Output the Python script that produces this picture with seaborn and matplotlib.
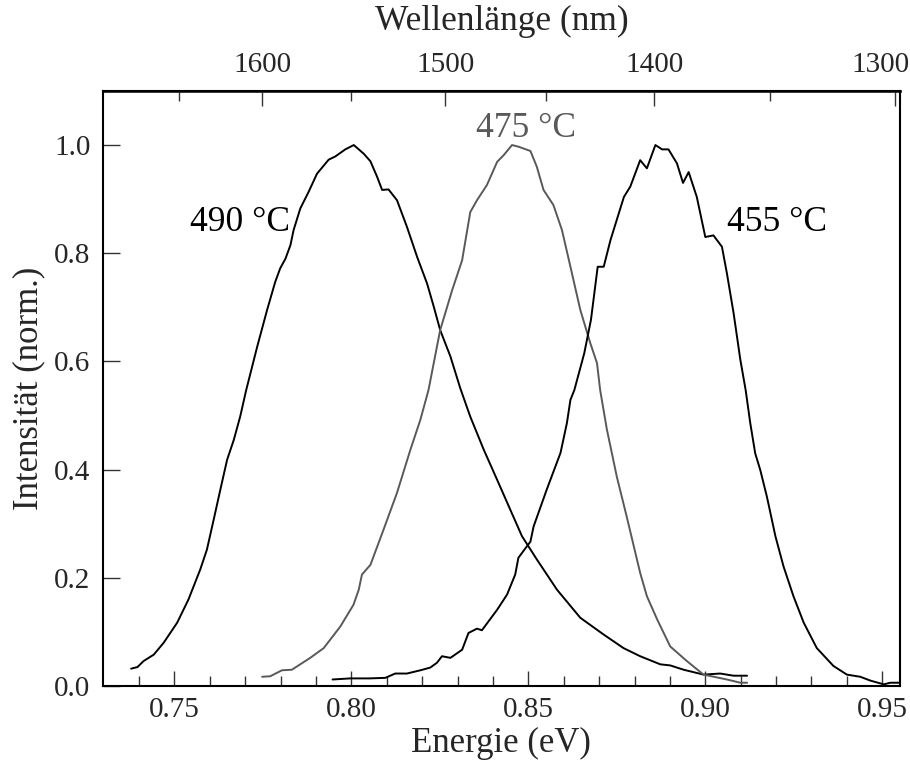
import numpy as np
import pandas as pd
import matplotlib
matplotlib.use("Agg")
import matplotlib.pyplot as plt
import matplotlib.transforms as mtransforms
import seaborn as sns

# Photolumineszenz-Spektren
energy_490 = [0.7378, 0.7396, 0.7413, 0.7442, 0.7470, 0.7508, 0.7540, 0.7573, 0.7592, 0.7611,
              0.7630, 0.7649, 0.7668, 0.7686, 0.7703, 0.7734, 0.7762, 0.7785, 0.7799, 0.7814,
              0.7828, 0.7837, 0.7856, 0.7879, 0.7903, 0.7936, 0.7955, 0.7983, 0.8007, 0.8035,
              0.8054, 0.8073, 0.8087, 0.8105, 0.8129, 0.8157, 0.8186, 0.8214, 0.8233, 0.8251,
              0.8280, 0.8308, 0.8336, 0.8374, 0.8412, 0.8449, 0.8482, 0.8524, 0.8581, 0.8647,
              0.8713, 0.8769, 0.8816, 0.8873, 0.8901, 0.8939, 0.8995, 0.9042, 0.9080, 0.9118]
intens_490 = [0.032, 0.035, 0.046, 0.058, 0.080, 0.117, 0.160, 0.215, 0.252, 0.307,
              0.363, 0.418, 0.455, 0.498, 0.547, 0.627, 0.695, 0.747, 0.772, 0.790,
              0.815, 0.843, 0.883, 0.913, 0.947, 0.973, 0.979, 0.992, 1.000, 0.984,
              0.970, 0.941, 0.917, 0.918, 0.898, 0.849, 0.793, 0.744, 0.701, 0.658,
              0.609, 0.550, 0.498, 0.437, 0.381, 0.326, 0.277, 0.234, 0.178, 0.126,
              0.095, 0.070, 0.055, 0.040, 0.038, 0.030, 0.021, 0.023, 0.019, 0.019]

energy_475 = [0.7748, 0.7771, 0.7804, 0.7832, 0.7884, 0.7922, 0.7969, 0.8006, 0.8021, 0.8030,
              0.8054, 0.8091, 0.8129, 0.8167, 0.8195, 0.8218, 0.8251, 0.8285, 0.8313, 0.8336,
              0.8355, 0.8383, 0.8412, 0.8430, 0.8454, 0.8472, 0.8506, 0.8524, 0.8543, 0.8571,
              0.8595, 0.8619, 0.8647, 0.8675, 0.8694, 0.8703, 0.8722, 0.8750, 0.8778, 0.8816,
              0.8835, 0.8864, 0.8901, 0.8948, 0.8995, 0.9061, 0.9099, 0.9118]
intens_475 = [0.017, 0.018, 0.029, 0.030, 0.052, 0.070, 0.110, 0.150, 0.178, 0.206,
              0.224, 0.289, 0.357, 0.437, 0.492, 0.547, 0.658, 0.732, 0.787, 0.876,
              0.898, 0.926, 0.969, 0.981, 1.000, 0.997, 0.989, 0.960, 0.917, 0.889,
              0.843, 0.775, 0.695, 0.634, 0.597, 0.547, 0.474, 0.387, 0.313, 0.209,
              0.166, 0.123, 0.073, 0.046, 0.021, 0.012, 0.006, 0.006]

energy_455 = [0.7947, 0.7997, 0.8050, 0.8096, 0.8124, 0.8157, 0.8195, 0.8223, 0.8242, 0.8256,
              0.8280, 0.8313, 0.8331, 0.8355, 0.8369, 0.8412, 0.8440, 0.8463, 0.8472, 0.8506,
              0.8515, 0.8552, 0.8591, 0.8609, 0.8619, 0.8630, 0.8658, 0.8677, 0.8696, 0.8713,
              0.8732, 0.8770, 0.8788, 0.8816, 0.8835, 0.8859, 0.8878, 0.8896, 0.8920, 0.8937,
              0.8953, 0.8976, 0.9000, 0.9023, 0.9047, 0.9061, 0.9080, 0.9099, 0.9114, 0.9127,
              0.9141, 0.9155, 0.9174, 0.9198, 0.9221, 0.9249, 0.9278, 0.9315, 0.9362, 0.9400,
              0.9438, 0.9466, 0.9504, 0.9523, 0.9550]
intens_455 = [0.012, 0.014, 0.014, 0.015, 0.023, 0.023, 0.029, 0.034, 0.043, 0.055,
              0.052, 0.067, 0.098, 0.106, 0.103, 0.141, 0.169, 0.206, 0.237, 0.267,
              0.295, 0.363, 0.431, 0.486, 0.529, 0.547, 0.615, 0.677, 0.775, 0.775,
              0.824, 0.904, 0.923, 0.972, 0.957, 1.000, 0.992, 0.992, 0.966, 0.930,
              0.950, 0.904, 0.830, 0.833, 0.812, 0.763, 0.689, 0.603, 0.547, 0.486,
              0.430, 0.400, 0.350, 0.277, 0.221, 0.166, 0.117, 0.070, 0.037, 0.021,
              0.017, 0.010, 0.003, 0.006, 0.006]

wl_major = [1600, 1500, 1400, 1300]
wl_minor = [1650, 1550, 1450, 1350]

HC = 1239.84  # eV*nm

sns.set_theme(style="ticks")
plt.rcParams['font.family'] = ['Liberation Serif', 'DejaVu Serif']
plt.rcParams['axes.linewidth'] = 1.5

fig = plt.figure(figsize=(9.1, 7.65), dpi=100)
ax = fig.add_axes([0.113, 0.1033, 0.876, 0.7778])

curves = [
    (energy_490, intens_490, 'black'),
    (energy_475, intens_475, '#595959'),
    (energy_455, intens_455, 'black'),
]
for e, i, col in curves:
    df = pd.DataFrame({'E': e, 'I': i})
    sns.lineplot(data=df, x='E', y='I', color=col, linewidth=1.4, sort=False,
                 estimator=None, ax=ax)

ax.set_xlim(0.7298, 0.955)
ax.set_ylim(0, 1.1)
ax.set_xticks([0.75, 0.80, 0.85, 0.90, 0.95])
ax.set_xticklabels(['0.75', '0.80', '0.85', '0.90', '0.95'])
ax.set_xticks(np.arange(0.74, 0.955, 0.01), minor=True)
ax.set_yticks([0.0, 0.2, 0.4, 0.6, 0.8, 1.0])
ax.set_yticklabels(['0.0', '0.2', '0.4', '0.6', '0.8', '1.0'])
ax.tick_params(axis='x', which='major', direction='in', length=11, width=1.0,
               labelsize=21, pad=8, top=False, color='#333333')
ax.tick_params(axis='x', which='minor', direction='in', length=7, width=1.0,
               top=False, color='#333333')
ax.tick_params(axis='y', which='major', direction='in', length=12, width=1.0,
               labelsize=21, pad=9, right=False, color='#333333')
ax.set_xlabel('Energie (eV)', fontsize=25, labelpad=3)
ax.set_ylabel('Intensität (norm.)', fontsize=25, labelpad=6)
for s in ax.spines.values():
    s.set_color('black')

# obere Achse: Wellenlaenge
sec = ax.secondary_xaxis('top', functions=(lambda x: HC / x, lambda x: HC / x))
sec.set_xticks(wl_major)
sec.set_xticklabels([str(w) for w in wl_major])
sec.set_xticks(wl_minor, minor=True)
sec.tick_params(axis='x', which='major', direction='in', length=11, width=1.0,
                labelsize=21, pad=9, color='#333333')
sec.tick_params(axis='x', which='minor', direction='in', length=7, width=1.0,
                color='#333333')
sec.set_xlabel('Wellenlänge (nm)', fontsize=25.5, labelpad=16)
sec.spines['top'].set_linewidth(2.0)

# "1300" sitzt am rechten Rand
last = sec.xaxis.get_majorticklabels()[-1]
last.set_horizontalalignment('right')
last.set_transform(last.get_transform() +
                   mtransforms.ScaledTranslation(14 / 100, 0, fig.dpi_scale_trans))

# Beschriftungen der Kurven
ax.text(0.7545, 0.856, '490 °C', fontsize=25.5, ha='left', va='center', color='black')
ax.text(0.8494, 1.031, '475 °C', fontsize=25.5, ha='center', va='center', color='#595959')
ax.text(0.9062, 0.856, '455 °C', fontsize=25.5, ha='left', va='center', color='black')

fig.savefig('out.png', dpi=100)
